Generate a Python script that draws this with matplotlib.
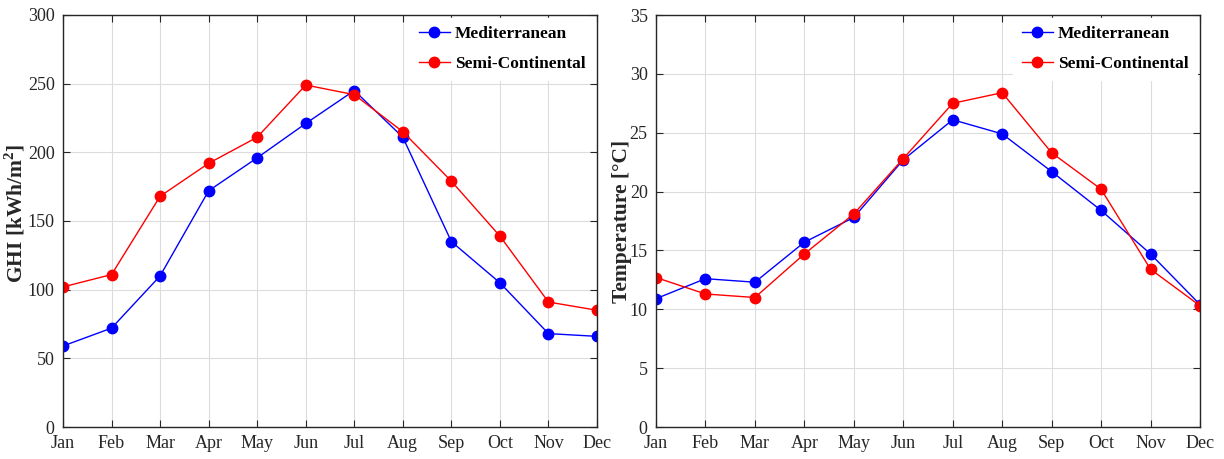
import matplotlib
matplotlib.use("Agg")
import matplotlib.pyplot as plt

# Monthly GHI and mean temperature for the two climate zones
months = ["Jan", "Feb", "Mar", "Apr", "May", "Jun", "Jul", "Aug", "Sep", "Oct", "Nov", "Dec"]

ghi_med = [59, 72, 110, 172, 196, 221, 245, 211, 135, 105, 68, 66]
ghi_semi = [102, 111, 168, 192, 211, 249, 242, 215, 179, 139, 91, 85]

temp_med = [10.9, 12.6, 12.3, 15.7, 17.8, 22.7, 26.1, 24.9, 21.7, 18.4, 14.7, 10.4]
temp_semi = [12.7, 11.3, 11.0, 14.7, 18.1, 22.8, 27.5, 28.4, 23.3, 20.2, 13.4, 10.3]

plt.rcParams["font.family"] = ["Liberation Serif", "DejaVu Serif"]
plt.rcParams["font.size"] = 13
plt.rcParams["mathtext.fontset"] = "custom"
plt.rcParams["mathtext.bf"] = "Liberation Serif:bold"

fig = plt.figure(figsize=(12.24, 4.59), dpi=100)
ax1 = fig.add_axes([63 / 1224, 1 - 427 / 459, (597 - 63) / 1224, (427 - 15) / 459])
ax2 = fig.add_axes([656 / 1224, 1 - 427 / 459, (1200 - 656) / 1224, (427 - 15) / 459])

x = list(range(len(months)))


def style(ax, ymax, ystep, ylabel, lx, ly):
    ax.set_xlim(0, 11)
    ax.set_ylim(0, ymax)
    ax.set_xticks(x)
    ax.set_xticklabels(months)
    ax.set_yticks(range(0, ymax + 1, ystep))
    ax.grid(True, color="#dcdcdc", linewidth=0.8)
    ax.set_axisbelow(True)
    ax.tick_params(direction="in", top=True, right=True, length=5,
                   colors="#262626", labelsize=13, pad=6)
    for s in ax.spines.values():
        s.set_color("#262626")
        s.set_linewidth(1.0)
    ax.set_ylabel(ylabel, fontweight="bold", fontsize=15.5, color="#262626")
    ax.yaxis.set_label_coords(lx, ly)
    leg = ax.legend(loc="upper right", frameon=True, fancybox=False,
                    edgecolor="white", framealpha=1, borderaxespad=0.15,
                    handlelength=1.8, handletextpad=0.3, labelspacing=0.75,
                    borderpad=0.5, prop={"weight": "bold", "size": 12.5})
    for t in leg.get_texts():
        t.set_color("black")


ax1.plot(x, ghi_med, "-o", color="blue", lw=1.0, ms=7.5, label="Mediterranean")
ax1.plot(x, ghi_semi, "-o", color="red", lw=1.0, ms=7.5, label="Semi-Continental")
style(ax1, 300, 50, "GHI [kWh/m$^{\\mathbf{2}}$]", -0.066, 0.52)

ax2.plot(x, temp_med, "-o", color="blue", lw=1.0, ms=7.5, label="Mediterranean")
ax2.plot(x, temp_semi, "-o", color="red", lw=1.0, ms=7.5, label="Semi-Continental")
style(ax2, 35, 5, "Temperature [°C]", -0.045, 0.5)

fig.savefig("out.png", dpi=100)
